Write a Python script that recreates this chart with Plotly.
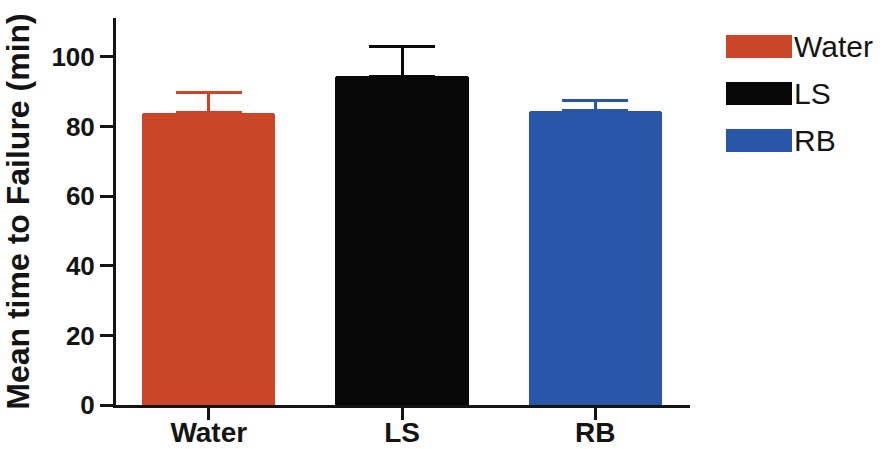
import plotly.graph_objects as go

categories = ["Water", "LS", "RB"]
means = [84.0, 94.5, 84.5]
sem = [5.7, 8.4, 2.9]
colors = ["#CB4529", "#080808", "#2A56A8"]
y_ticks = [0, 20, 40, 60, 80, 100]
y_title = "Mean time to Failure (min)"

FONT = "Liberation Sans, Arial, sans-serif"
INK = "#141414"

fig = go.Figure()
for cat, m, e, c in zip(categories, means, sem, colors):
    fig.add_trace(go.Bar(
        x=[cat], y=[m], width=0.69,
        marker=dict(color=c, line=dict(width=0), cornerradius=3),
        error_y=dict(type="data", array=[e], arrayminus=[0], symmetric=False,
                     color=c, thickness=3, width=33),
        showlegend=False, name=cat,
    ))

# manual legend (large colour blocks like the original)
plot_l, plot_r, plot_t, plot_b = 116, 690, 18, 405
pw, ph = plot_r - plot_l, plot_b - plot_t
def px_x(p): return (p - plot_l) / pw
def px_y(p): return (plot_b - p) / ph
for i, (cat, c) in enumerate(zip(categories, colors)):
    top = 35 + i * 47
    fig.add_shape(type="rect", xref="paper", yref="paper",
                  x0=px_x(726), x1=px_x(792), y0=px_y(top + 23), y1=px_y(top),
                  fillcolor=c, line=dict(width=0))
    fig.add_annotation(xref="paper", yref="paper", x=px_x(793), y=px_y(top + 11.5),
                       text=cat, showarrow=False, xanchor="left", yanchor="middle",
                       borderpad=0,
                       font=dict(family=FONT, size=30, color=INK))

fig.update_layout(
    width=884, height=449,
    margin=dict(l=plot_l, r=884 - plot_r, t=plot_t, b=449 - plot_b, autoexpand=False),
    paper_bgcolor="white", plot_bgcolor="white",
    barmode="overlay",
    bargap=0,
)
fig.update_xaxes(
    range=[-0.48, 2.49], showline=True, linewidth=3, linecolor=INK,
    ticks="outside", ticklen=12, tickwidth=3, tickcolor=INK,
    tickfont=dict(family=FONT, size=28, color=INK, weight="bold"),
    ticklabelstandoff=-12,
    showgrid=False, zeroline=False, automargin=False,
)
fig.update_yaxes(
    range=[0, 111.2], tickvals=y_ticks, showline=True, linewidth=3, linecolor=INK,
    ticks="outside", ticklen=13, tickwidth=3, tickcolor=INK,
    tickfont=dict(family=FONT, size=26, color=INK, weight="bold"),
    showgrid=False, zeroline=False, automargin=False,
    title=dict(text=y_title, font=dict(family=FONT, size=32, color=INK, weight="bold"),
               standoff=15),
)
fig.write_html("out.html", config={"displayModeBar": False},
               post_script="document.body.style.margin='0';document.body.style.overflow='hidden';")
